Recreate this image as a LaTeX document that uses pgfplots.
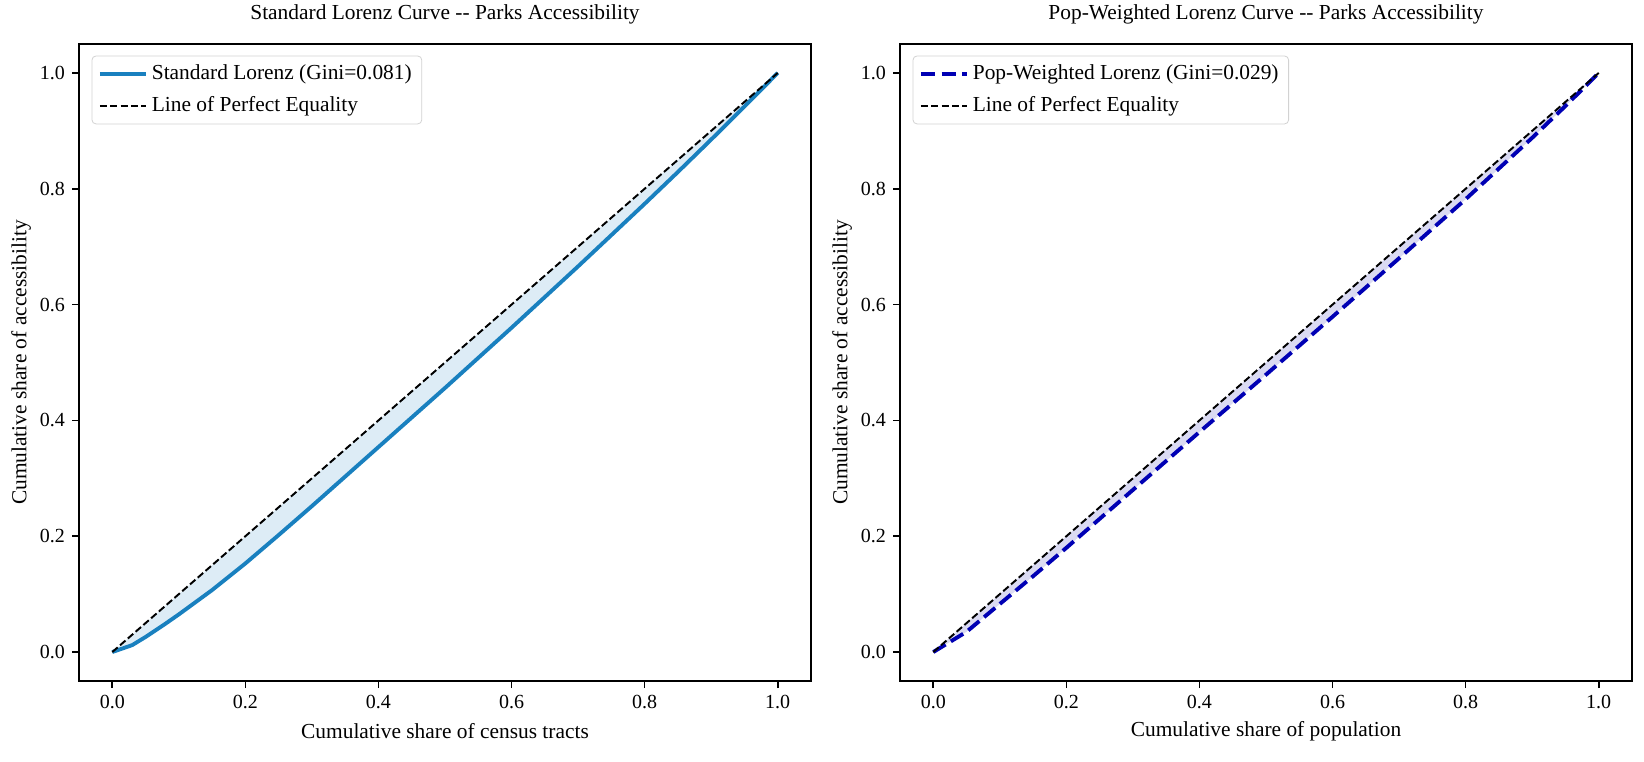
\documentclass[border=0pt]{standalone}
\usepackage{fontspec}
\setmainfont{Liberation Serif}
\usepackage{pgfplots}
\usepackage{pgfplotstable}
\pgfplotsset{compat=1.18}
\usepgfplotslibrary{fillbetween}

\definecolor{stdblue}{RGB}{25,128,191}
\definecolor{stdfill}{RGB}{221,236,246}
\definecolor{popblue}{RGB}{0,0,180}
\definecolor{popfill}{RGB}{218,218,242}
\definecolor{legframe}{RGB}{210,210,210}

% Lorenz curve of parks accessibility over census tracts
\pgfplotstableread{
p     L
0.00  0.000
0.03  0.012
0.05  0.026
0.08  0.049
0.10  0.065
0.15  0.107
0.20  0.153
0.25  0.202
0.30  0.252
0.35  0.303
0.40  0.354
0.45  0.405
0.50  0.456
0.55  0.508
0.60  0.560
0.65  0.613
0.70  0.666
0.75  0.720
0.80  0.774
0.85  0.829
0.90  0.885
0.95  0.942
1.00  1.000
}\stdlorenz

% Population-weighted Lorenz curve
\pgfplotstableread{
p     L
0.00  0.000
0.05  0.035
0.10  0.083
0.15  0.131
0.20  0.180
0.30  0.280
0.40  0.380
0.50  0.479
0.60  0.579
0.70  0.680
0.80  0.782
0.85  0.835
0.90  0.888
0.95  0.943
1.00  1.000
}\poplorenz

\newcommand{\labelfont}{\fontsize{10.7}{12.8}\selectfont}
\newcommand{\tickfont}{\fontsize{10}{12}\selectfont}

\pgfplotsset{
  lorenz/.style={
    scale only axis,
    width=366pt, height=318.5pt,
    xmin=-0.05, xmax=1.05, ymin=-0.05, ymax=1.05,
    xtick={0,0.2,0.4,0.6,0.8,1.0},
    ytick={0,0.2,0.4,0.6,0.8,1.0},
    tick align=outside, tick pos=left,
    major tick length=3.5pt,
    every tick/.style={black, line width=0.8pt},
    axis line style={line width=0.8pt},
    xticklabel style={/pgf/number format/.cd, fixed, fixed zerofill, precision=1, assume math mode=true},
    yticklabel style={/pgf/number format/.cd, fixed, fixed zerofill, precision=1, assume math mode=true},
    tick label style={font=\tickfont},
    label style={font=\labelfont},
    title style={font=\labelfont, at={(axis description cs:0.5,1)}, anchor=base, yshift=6.1pt},
    xlabel style={at={(axis description cs:0.5,0)}, anchor=center, yshift=-25pt},
    ylabel style={at={(axis description cs:-0.079,0.5)}, anchor=center},
    legend cell align=left,
    legend style={at={(axis description cs:0,1)}, anchor=north west,
      xshift=6.3pt, yshift=-5.8pt, draw=legframe, rounded corners=2pt,
      font=\labelfont, inner xsep=3pt, inner ysep=2.5pt, row sep=3pt},
    legend image code/.code={\draw[##1] (0pt,0pt) -- (23pt,0pt);},
  },
  equality/.style={black, line width=0.97pt, dash pattern=on 3.6pt off 1.55pt},
}

\begin{document}
\begin{tikzpicture}
\begin{axis}[lorenz,
  at={(39.5pt,40pt)}, anchor=south west,
  title={Standard Lorenz Curve -{}- Parks Accessibility},
  xlabel={Cumulative share of census tracts},
  ylabel={Cumulative share of accessibility}]
  \addplot[stdblue, line width=1.94pt, line join=round, name path=std] table[x=p, y=L] {\stdlorenz};
  \addlegendentry{Standard Lorenz (Gini=0.081)}
  \addplot[equality, name path=eqA] coordinates {(0,0) (1,1)};
  \addlegendentry{Line of Perfect Equality}
  \addplot[stdfill, forget plot] fill between[of=eqA and std];
\end{axis}

\begin{axis}[lorenz,
  at={(450pt,40pt)}, anchor=south west,
  title={Pop-Weighted Lorenz Curve -{}- Parks Accessibility},
  xlabel={Cumulative share of population},
  ylabel={Cumulative share of accessibility}]
  \addplot[popblue, line width=1.94pt, line join=round, dash pattern=on 7.2pt off 3.1pt, name path=pop] table[x=p, y=L] {\poplorenz};
  \addlegendentry{Pop-Weighted Lorenz (Gini=0.029)}
  \addplot[equality, name path=eqB] coordinates {(0,0) (1,1)};
  \addlegendentry{Line of Perfect Equality}
  \addplot[popfill, forget plot] fill between[of=eqB and pop];
\end{axis}

% fixed page size
\pgfresetboundingbox
\path[use as bounding box] (0,0) rectangle (822pt,380.5pt);
\end{tikzpicture}
\end{document}
